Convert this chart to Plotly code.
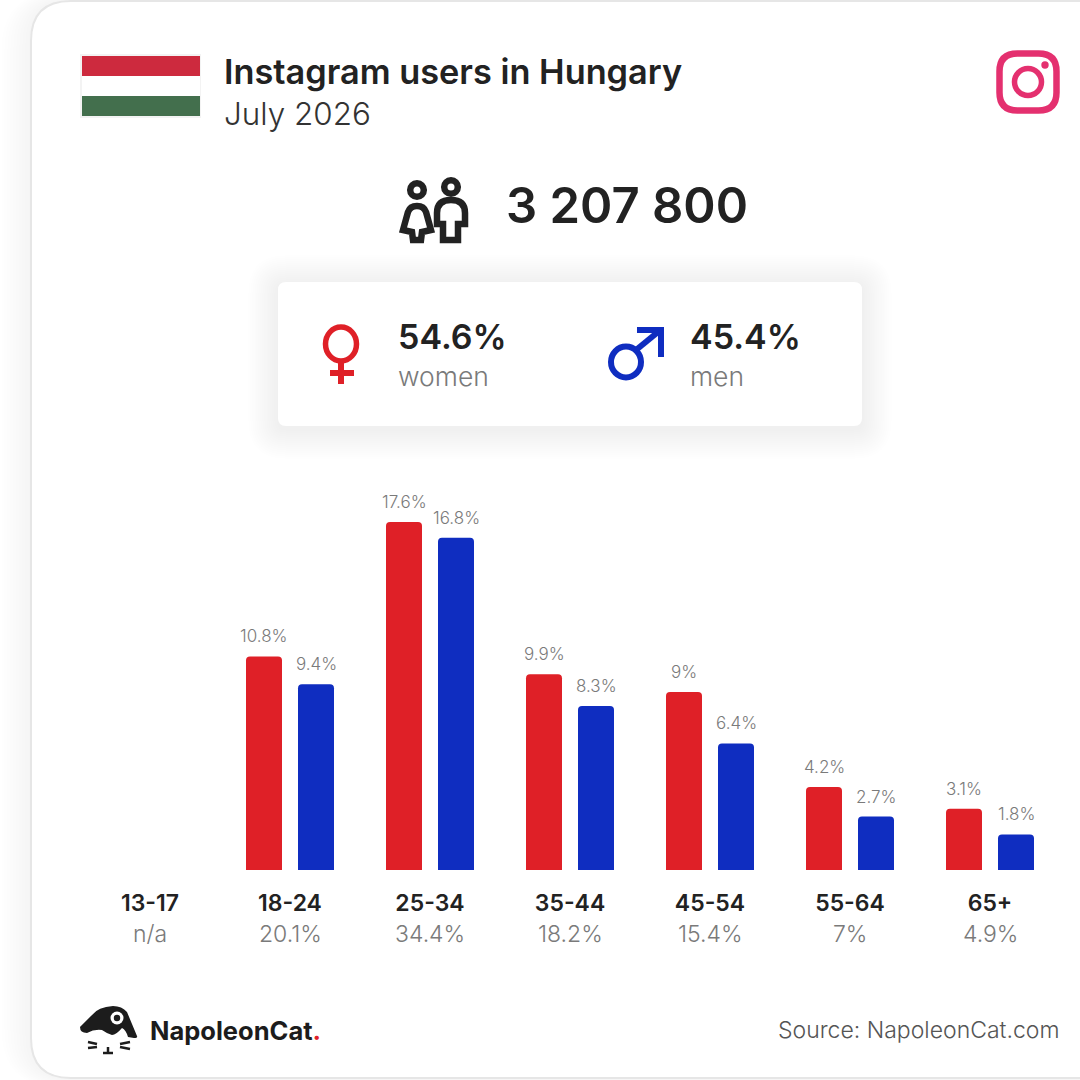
import re
import plotly.graph_objects as go

# chart values
age_groups = ["13-17", "18-24", "25-34", "35-44", "45-54", "55-64", "65+"]
women = [None, 10.8, 17.6, 9.9, 9, 4.2, 3.1]
men = [None, 9.4, 16.8, 8.3, 6.4, 2.7, 1.8]
totals = ["n/a", "20.1%", "34.4%", "18.2%", "15.4%", "7%", "4.9%"]

RED = "#df2027"
BLUE = "#0f2dc0"
DARK = "#222222"
GREY = "#7a7a7a"
FONT = "Inter"
SIZE = 1080


def px(x):
    return x / SIZE


def py(y):
    return 1 - y / SIZE


def to_paper(path):
    # path is written in page pixels, plotly wants paper fractions here
    out, is_x = [], True
    for tok in re.findall(r"[A-Za-z]|-?[\d.]+", path):
        if tok.isalpha():
            out.append(tok)
        else:
            out.append(f"{px(float(tok)):.5f}" if is_x else f"{py(float(tok)):.5f}")
            is_x = not is_x
    return " ".join(out)


def round_rect(x0, y0, x1, y1, r):
    return (f"M {x0 + r} {y0} L {x1 - r} {y0} Q {x1} {y0} {x1} {y0 + r} L {x1} {y1 - r} Q {x1} {y1} {x1 - r} {y1} "
            f"L {x0 + r} {y1} Q {x0} {y1} {x0} {y1 - r} L {x0} {y0 + r} Q {x0} {y0} {x0 + r} {y0} Z")


shapes = []
notes = []


def shape(path, fill=None, line=None, width=0, layer="below"):
    shapes.append(dict(type="path", path=to_paper(path), xref="paper", yref="paper", layer=layer,
                       fillcolor=fill or "rgba(0,0,0,0)",
                       line=dict(color=line or "rgba(0,0,0,0)", width=width)))


def rect(x0, y0, x1, y1, fill):
    shapes.append(dict(type="rect", xref="paper", yref="paper", x0=px(x0), x1=px(x1), y0=py(y0), y1=py(y1),
                       fillcolor=fill, line=dict(width=0), layer="below"))


def ellipse(cx, cy, rx, ry, fill=None, line=None, width=0):
    shapes.append(dict(type="circle", xref="paper", yref="paper", x0=px(cx - rx), x1=px(cx + rx),
                       y0=py(cy - ry), y1=py(cy + ry), layer="below",
                       fillcolor=fill or "rgba(0,0,0,0)",
                       line=dict(color=line or "rgba(0,0,0,0)", width=width)))


def note(x, y, text, size, color=DARK, weight=400, anchor="left"):
    notes.append(dict(x=px(x), y=py(y), xref="paper", yref="paper", text=text, showarrow=False,
                      xanchor=anchor, yanchor="middle", borderpad=0, borderwidth=0,
                      font=dict(family=FONT, size=size, color=color, weight=weight)))


# card with soft shadow
for i in range(10, 0, -1):
    shape(round_rect(31 - i * 3, 1 - i, 1300, 1078 + i, 40 + i * 2), fill="rgba(0,0,0,0.004)")
shape(round_rect(31, 1, 1300, 1078, 40), fill="#ffffff", line="#e6e6e6", width=2)

# flag
rect(80, 54, 201, 118, "#f3f3f3")
rect(82, 56, 200, 76, "#cd2a3e")
rect(82, 76, 200, 96, "#ffffff")
rect(82, 96, 200, 116, "#436f4d")

# instagram logo
IG = "#e4306f"
shape(round_rect(999.5, 53.5, 1056.5, 110.5, 18), line=IG, width=6.5)
ellipse(1028, 82, 13.5, 13.5, line=IG, width=5.5)
ellipse(1045, 65, 3.7, 3.7, fill=IG)

# people icon
ellipse(417, 190, 6.8, 6.8, line=DARK, width=6.5)
shape("M 417 206 Q 424 206 426 212 L 431 230 L 422 232 L 421 240 L 413 240 L 412 232 L 403 230 L 408 212 Q 410 206 417 206 Z",
      line=DARK, width=6.5)
ellipse(451, 187, 6.8, 6.8, line=DARK, width=6.5)
shape("M 443 240 L 443 224 L 437 224 L 437 213 Q 437 200 451 200 Q 465 200 465 213 L 465 224 L 458 224 L 458 240 Z",
      line=DARK, width=6.5)

# gender panel
for i in range(15, 0, -1):
    shape(round_rect(278 - i * 2, 282 - i * 2 + 3, 862 + i * 2, 426 + i * 2 + 3, 8 + i * 2), fill="rgba(0,0,0,0.002)")
shape(round_rect(278, 282, 862, 426, 8), fill="#ffffff")

ellipse(341, 344, 15.5, 17, line=RED, width=5.5)
shape("M 341 362 L 341 384", line=RED, width=6)
shape("M 330 373 L 354 373", line=RED, width=6)

ellipse(626, 362, 15, 15.5, line=BLUE, width=6)
shape("M 636 350 L 658 332", line=BLUE, width=6)
shape("M 637 330 L 661 330 L 661 357", line=BLUE, width=6)

# napoleoncat logo
shape("M 80 1027 L 92 1015 Q 98 1007 113 1006 Q 122 1006 127 1012 L 137 1036 Q 138 1038 134 1038 "
      "L 128 1037 Q 126 1030 122 1028 Q 116 1035 112 1035 Q 106 1033 102 1030 Q 94 1029 87 1033 Q 80 1033 80 1027 Z",
      fill="#1c1c1c")
ellipse(117, 1018, 6.5, 6.5, fill="#ffffff")
ellipse(117, 1018, 3.2, 3.2, fill="#1c1c1c")
for seg in ["M 88 1042 L 97 1044", "M 88 1048 L 97 1047", "M 120 1044 L 130 1042", "M 120 1047 L 130 1049",
            "M 108 1047 L 108 1052", "M 103 1053 L 113 1053"]:
    shape(seg, line="#1c1c1c", width=2.5)

# texts
note(224, 71, "Instagram users in Hungary", 34.3, weight=600)
note(224, 114, "July 2026", 31.4, color="#333333", weight=300)
note(506, 205, "3 207 800", 49, weight=600)
note(398, 336, "54.6%", 34, weight=600)
note(398, 376, "women", 26.5, color=GREY, weight=300)
note(690, 336, "45.4%", 34, weight=600)
note(690, 376, "men", 26.5, color=GREY, weight=300)
note(150, 1030, "NapoleonCat<span style='color:#e0202a'>.</span>", 25.5, color="#1c1c1c", weight=700)
note(1059, 1030, "Source: NapoleonCat.com", 23, color="#555555", weight=300, anchor="right")

fig = go.Figure()
fig.add_trace(go.Bar(x=age_groups, y=women, name="Women", marker_color=RED, marker_line_width=0))
fig.add_trace(go.Bar(x=age_groups, y=men, name="Men", marker_color=BLUE, marker_line_width=0))

# value labels above the bars, totals below the age groups
for age, w, m, total in zip(age_groups, women, men, totals):
    for val, shift in ((w, -26), (m, 26)):
        if val is not None:
            notes.append(dict(x=age, y=val, xref="x", yref="y", text=f"{val}%", showarrow=False, xshift=shift,
                              yshift=20, yanchor="middle", borderpad=0, borderwidth=0,
                              font=dict(family=FONT, size=17, color=GREY, weight=300)))
    notes.append(dict(x=age, y=py(934), xref="x", yref="paper", text=total, showarrow=False, yanchor="middle",
                      borderpad=0, borderwidth=0, font=dict(family=FONT, size=23, color=GREY, weight=300)))

fig.update_layout(
    width=SIZE, height=SIZE,
    margin=dict(l=0, r=0, t=0, b=0),
    paper_bgcolor="#ffffff", plot_bgcolor="rgba(0,0,0,0)",
    showlegend=False,
    barmode="group", bargap=36 / 140, bargroupgap=16 / 52, barcornerradius=4,
    xaxis=dict(domain=[px(80), px(1060)], type="category", categoryorder="array", categoryarray=age_groups,
               showgrid=False, zeroline=False, showline=False, ticks="", ticklabelstandoff=17,
               tickfont=dict(family=FONT, size=23, color=DARK, weight=600)),
    yaxis=dict(domain=[py(870), py(474)], range=[0, 20.03], visible=False, fixedrange=True),
    shapes=shapes, annotations=notes,
)

fig.write_html("out.html", config=dict(displayModeBar=False), post_script="document.body.style.margin='0';")
